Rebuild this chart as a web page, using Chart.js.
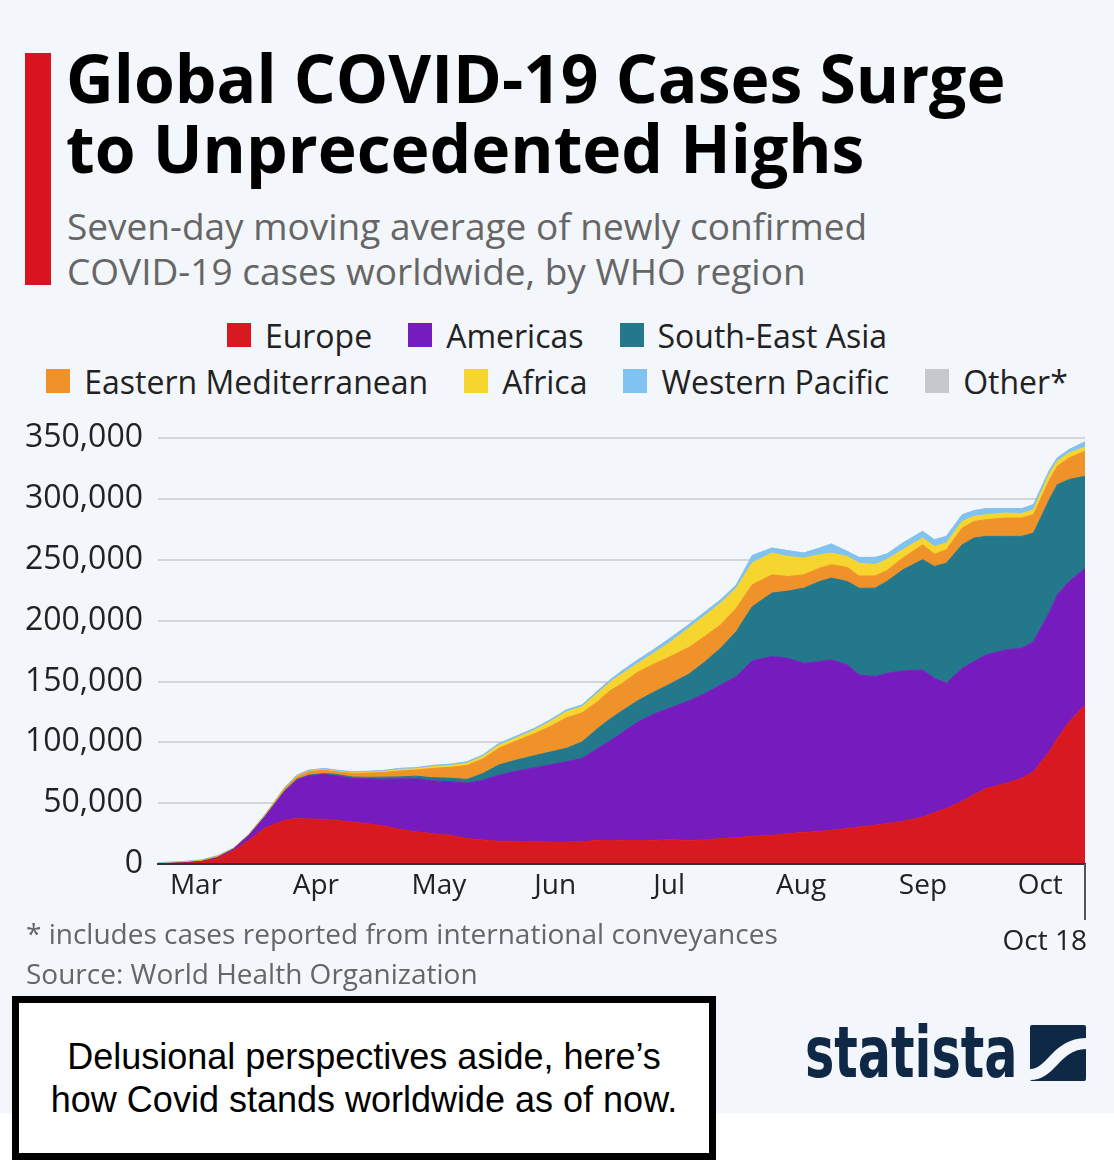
<!DOCTYPE html>
<html>
<head>
<meta charset="utf-8">
<script src="https://cdn.jsdelivr.net/npm/chart.js@4.4.1/dist/chart.umd.min.js"></script>
<style>
  body { margin: 0; background: #fff; width: 1114px; height: 1164px; position: relative; overflow: hidden; font-family: "Open Sans", sans-serif; }
  #panel { position: absolute; left: 0; top: 0; width: 1114px; height: 1113px; background: #f3f6fa; }
  #bar { position: absolute; left: 25px; top: 53px; width: 26px; height: 232px; background: #d7141f; }
  #title { position: absolute; left: 66px; top: 42px; font-size: 66px; font-weight: 700; line-height: 70px; color: #000; white-space: nowrap; }
  #subtitle { position: absolute; left: 67px; top: 203px; font-size: 37px; line-height: 45px; color: #666; white-space: nowrap; }
  .legendRow { position: absolute; left: 0; width: 1114px; height: 46px; display: flex; justify-content: center; align-items: center; }
  .item { display: flex; align-items: center; margin: 0 18px; font-size: 32px; color: #222; white-space: nowrap; }
  .swatch { width: 24px; height: 24px; margin-right: 14px; }
  #wrap { position: absolute; left: 0; top: 404px; width: 1114px; height: 560px; }
  .note { position: absolute; left: 26px; font-size: 28px; line-height: 28px; color: #666; white-space: nowrap; }
  #box { position: absolute; left: 12px; top: 996px; width: 690px; height: 150px; border: 7px solid #000; background: #fff;
         display: flex; align-items: center; justify-content: center; text-align: center;
         font-family: "Liberation Sans", Arial, sans-serif; font-size: 36px; line-height: 43px; color: #000; }
  #logo { position: absolute; left: 805px; top: 1010px; height: 84px; }
  #logoText { position: absolute; left: 0; top: 0; font-family: "DejaVu Sans Condensed", "DejaVu Sans", sans-serif; font-weight: 700;
              font-size: 72px; line-height: 84px; color: #0f2846; transform: scaleX(0.76); transform-origin: left center; white-space: nowrap; }
</style>
</head>
<body>
<div id="panel"></div>
<div id="bar"></div>
<div id="title">Global COVID-19 Cases Surge<br>to Unprecedented Highs</div>
<div id="subtitle">Seven-day moving average of newly confirmed<br>COVID-19 cases worldwide, by WHO region</div>
<div class="legendRow" id="row1" style="top:312px"></div>
<div class="legendRow" id="row2" style="top:358px"></div>
<div id="wrap"><canvas id="chart"></canvas></div>
<div class="note" style="top:919px">* includes cases reported from international conveyances</div>
<div class="note" style="top:959px">Source: World Health Organization</div>
<div id="box"><div>Delusional perspectives aside, here’s<br>how Covid stands worldwide as of now.</div></div>
<div id="logo"><div id="logoText">statista</div></div>
<svg style="position:absolute;left:1030px;top:1025px" width="56" height="56" viewBox="0 0 56 56">
  <rect width="56" height="56" rx="2" fill="#0f2846"/>
  <path d="M0 44 C18 44 22 14 56 13 L56 24 C28 25 26 55 0 55 Z" fill="#f3f6fa"/>
</svg>
<script>
// days counted from 1 March 2020
const days = [-3, 3, 8, 12, 16, 20, 24, 29, 32, 35, 39, 42, 46, 50, 54, 58, 62, 66, 71, 75,
  79, 83, 87, 92, 96, 100, 104, 108, 111, 114, 118, 122, 126, 131, 135, 139, 143, 147, 152, 156,
  160, 164, 167, 171, 174, 178, 181, 185, 190, 193, 196, 200, 203, 206, 211, 215, 218, 222, 224, 227, 231];

const monthStarts = [0, 31, 61, 92, 122, 153, 184, 214];
const monthLabels = ['Mar', 'Apr', 'May', 'Jun', 'Jul', 'Aug', 'Sep', 'Oct'];
const endDay = 231;
const endLabel = 'Oct 18';

const regions = ['Europe', 'Americas', 'South-East Asia', 'Eastern Mediterranean', 'Africa', 'Western Pacific', 'Other*'];
const colors = ['#d81920', '#761cbf', '#23788b', '#f0922a', '#f6d52e', '#80c2f0', '#c5c8cc'];

const europe = [150, 700, 1800, 4600, 10800, 19500, 29600, 36000, 37300, 37000, 36500, 35700, 34600, 33000, 31300, 28500, 26500, 25000, 23500, 21000,
  19800, 18700, 18700, 18300, 18100, 18100, 18300, 19500, 19200, 19500, 19200, 19500, 20000, 19500, 19800, 20900, 21700, 22800, 23600, 25000,
  25800, 26900, 27700, 29100, 30500, 31800, 33200, 35100, 38500, 42300, 45600, 51500, 57100, 62000, 66200, 70500, 75800, 92500, 103200, 116900, 130700];
const americas = [10, 60, 250, 600, 1200, 4100, 9100, 23800, 31600, 35500, 37100, 36800, 35700, 36800, 38400, 41500, 43500, 43500, 44000, 45500,
  49000, 54300, 57300, 60700, 63400, 65900, 68400, 75500, 81800, 88000, 97300, 103500, 108000, 114500, 120200, 126200, 132300, 144200, 146900, 144100,
  139200, 139500, 140000, 134500, 124900, 122200, 123500, 123600, 121000, 110300, 102900, 109400, 109300, 109800, 109800, 106800, 107000, 114300, 118000, 115300, 112500];
const seAsia = [5, 10, 20, 40, 50, 100, 200, 500, 700, 500, 800, 1100, 1200, 1400, 1700, 1600, 2200, 2500, 3000, 3000,
  5500, 8300, 9000, 10000, 10500, 11000, 13500, 16400, 17900, 18000, 17500, 18000, 19500, 22000, 26000, 30200, 37100, 44500, 52200, 55200,
  61700, 65800, 67300, 68600, 71300, 72700, 75500, 83100, 90600, 92000, 98800, 101500, 101500, 97500, 93300, 92000, 89200, 92700, 90600, 83800, 75500];
const eastMed = [100, 400, 700, 1000, 500, 600, 900, 1700, 2000, 2800, 2700, 2200, 2900, 3500, 3800, 4900, 5000, 7500, 9000, 11500,
  12000, 13700, 15500, 18000, 21000, 25000, 24000, 22000, 23300, 22500, 23500, 23000, 22500, 22000, 21000, 19200, 19200, 18000, 15000, 12000,
  11000, 11000, 11000, 11600, 10000, 10000, 9000, 9600, 12300, 10000, 11000, 13700, 13700, 13700, 15100, 15100, 15100, 16000, 15100, 17800, 20600];
const africa = [0, 5, 20, 50, 50, 100, 200, 300, 400, 300, 400, 400, 500, 600, 800, 1000, 1000, 1300, 1500, 1800,
  2000, 2500, 2500, 3000, 4000, 5000, 5000, 7000, 6900, 8000, 7000, 9000, 11500, 16000, 17000, 17900, 16400, 18000, 17900, 16500,
  13700, 11000, 9600, 9000, 10600, 9300, 9000, 6900, 5500, 6400, 5500, 5500, 4200, 4100, 4100, 3600, 4100, 5000, 4200, 4100, 3300];
const westPacific = [840, 725, 510, 510, 300, 300, 600, 600, 1000, 1000, 1000, 900, 900, 900, 900, 1100, 900, 1100, 1100, 1200,
  1300, 1500, 1500, 1500, 1500, 1500, 1500, 2000, 1900, 2500, 3000, 3000, 3500, 2800, 3000, 2700, 2800, 6000, 4100, 4700,
  4200, 5500, 7400, 4100, 4700, 6000, 4600, 5500, 5500, 5500, 5500, 5500, 4600, 5000, 3600, 4100, 4200, 3000, 2700, 2800, 4400];
const other = [0, 0, 0, 0, 0, 0, 0, 0, 0, 0, 0, 0, 0, 0, 0, 0, 0, 0, 0, 0,
  0, 0, 0, 0, 0, 0, 0, 0, 0, 0, 0, 0, 0, 0, 0, 0, 0, 0, 0, 0,
  0, 0, 0, 0, 0, 0, 0, 0, 0, 0, 0, 0, 0, 0, 0, 0, 0, 0, 0, 0, 0];

const series = [europe, americas, seAsia, eastMed, africa, westPacific, other];

// html legend, two rows like the original
regions.forEach((name, i) => {
  const item = document.createElement('div');
  item.className = 'item';
  item.innerHTML = '<span class="swatch" style="background:' + colors[i] + '"></span>' + name;
  document.getElementById(i < 3 ? 'row1' : 'row2').appendChild(item);
});

const endMarker = {
  id: 'endMarker',
  afterDraw(chart) {
    const ctx = chart.ctx;
    const x = chart.scales.x.getPixelForValue(endDay);
    const bottom = chart.chartArea.bottom;
    ctx.save();
    ctx.strokeStyle = '#555';
    ctx.lineWidth = 2;
    ctx.beginPath();
    ctx.moveTo(x, bottom);
    ctx.lineTo(x, bottom + 56);
    ctx.stroke();
    ctx.fillStyle = '#222';
    ctx.font = '28px "Open Sans"';
    ctx.textAlign = 'right';
    ctx.textBaseline = 'alphabetic';
    ctx.fillText(endLabel, x + 2, bottom + 86);
    ctx.restore();
  }
};

new Chart(document.getElementById('chart'), {
  type: 'line',
  data: {
    datasets: series.map((vals, i) => ({
      label: regions[i],
      data: vals.map((v, j) => ({ x: days[j], y: v })),
      backgroundColor: colors[i],
      borderColor: colors[i],
      borderWidth: 1,
      pointRadius: 0,
      tension: 0,
      fill: i === 0 ? 'origin' : '-1'
    }))
  },
  options: {
    responsive: true,
    maintainAspectRatio: false,
    animation: false,
    layout: { padding: { left: 0, right: 29, top: 0, bottom: 38 } },
    plugins: { legend: { display: false }, tooltip: { enabled: false } },
    scales: {
      x: {
        type: 'linear',
        min: -3,
        max: endDay,
        afterBuildTicks: s => { s.ticks = monthStarts.map(v => ({ value: v })); },
        afterFit: s => { s.height = 62; },
        ticks: {
          autoSkip: false,
          maxRotation: 0,
          align: 'start',
          padding: 5,
          color: '#222',
          font: { family: 'Open Sans', size: 28 },
          callback: v => monthLabels[monthStarts.indexOf(v)]
        },
        grid: { display: false, drawTicks: false },
        border: { color: '#333', width: 2, z: 1 }
      },
      y: {
        stacked: true,
        min: 0,
        max: 350000,
        afterFit: s => { s.width = 158; },
        ticks: {
          stepSize: 50000,
          padding: 15,
          color: '#222',
          font: { family: 'Open Sans', size: 32 },
          callback: v => v.toLocaleString('en-US')
        },
        grid: { color: '#d2d6db', lineWidth: 2, drawTicks: false },
        border: { display: false }
      }
    }
  },
  plugins: [endMarker]
});
</script>
</body>
</html>
